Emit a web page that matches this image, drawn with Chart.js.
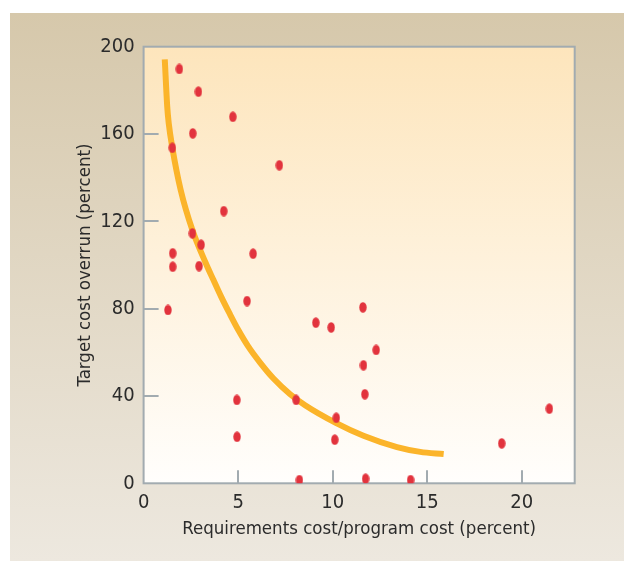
<!DOCTYPE html>
<html>
<head>
<meta charset="utf-8">
<script src="https://cdn.jsdelivr.net/npm/chart.js@4"></script>
<style>
  html, body { margin: 0; padding: 0; background: #fff; }
</style>
</head>
<body>
<canvas id="chart" width="624" height="569"></canvas>
<script>
/* Data */
const reqCost = [1.89, 2.90, 4.72, 2.60, 1.52, 7.18, 4.24, 2.58, 3.04, 1.54, 5.79, 1.54, 2.93, 5.47, 1.29,
  11.60, 9.11, 9.92, 12.30, 11.63, 11.70, 4.93, 8.07, 21.46, 10.19, 4.94, 10.11, 18.94, 8.24, 11.74, 14.12];
const overrun = [189.8, 179.4, 167.9, 160.3, 153.7, 145.7, 124.7, 114.5, 109.3, 105.4, 105.2, 99.2, 99.5, 83.5, 79.4,
  80.6, 73.6, 71.4, 61.1, 54.1, 40.8, 38.2, 38.2, 34.2, 30.0, 21.3, 20.0, 18.3, 1.5, 2.1, 1.5];

const curveX = [1.12, 1.25, 1.33, 1.52, 1.96, 2.58, 3.29, 3.69, 4.10, 4.54, 5.01, 5.54, 6.16, 6.87, 7.75, 8.54,
  10.19, 11.63, 13.40, 14.63, 15.87];
const curveY = [194.2, 172.5, 164.9, 153.7, 134.4, 116.0, 100.8, 93.2, 85.5, 77.9, 70.2, 62.6, 55.3, 48.0, 40.8, 35.8,
  27.6, 21.8, 16.6, 14.4, 13.4];

const xTicks = [0, 5, 10, 15, 20];
const yTicks = [0, 40, 80, 120, 160, 200];

const fontFamily = "'Liberation Sans Narrow', 'DejaVu Sans Condensed', 'Liberation Sans', sans-serif";
const textColor = "#2b2b2b";
const frameColor = "#a2abb0";

/* Oval red dot */
function makeDot(w, h, color) {
  const c = document.createElement("canvas");
  c.width = w;
  c.height = h;
  const g = c.getContext("2d");
  g.fillStyle = color;
  g.beginPath();
  g.ellipse(w / 2, h / 2, w / 2 - 0.3, h / 2 - 0.2, 0, 0, Math.PI * 2);
  g.fill();
  return c;
}
const dot = makeDot(8, 11, "#e2333d");

/* Backgrounds, frame and inner ticks */
const decor = {
  id: "decor",
  beforeDraw(chart) {
    const { ctx, chartArea: a } = chart;
    ctx.save();
    let g = ctx.createLinearGradient(0, 13, 0, 561);
    g.addColorStop(0, "#d6c8ab");
    g.addColorStop(1, "#ede8df");
    ctx.fillStyle = g;
    ctx.fillRect(10, 13, 614, 548);

    g = ctx.createLinearGradient(0, a.top, 0, a.bottom);
    g.addColorStop(0, "#fde5bc");
    g.addColorStop(1, "#fffefc");
    ctx.fillStyle = g;
    ctx.fillRect(a.left, a.top, a.right - a.left, a.bottom - a.top);
    ctx.restore();
  },
  beforeDatasetsDraw(chart) {
    const { ctx, chartArea: a, scales } = chart;
    ctx.save();
    ctx.strokeStyle = frameColor;
    ctx.lineWidth = 2;
    ctx.strokeRect(a.left, a.top, a.right - a.left, a.bottom - a.top);
    ctx.beginPath();
    yTicks.slice(1, -1).forEach(v => {
      const y = Math.round(scales.y.getPixelForValue(v));
      ctx.moveTo(a.left, y);
      ctx.lineTo(a.left + 15, y);
    });
    xTicks.slice(1).forEach(v => {
      const x = Math.round(scales.x.getPixelForValue(v));
      ctx.moveTo(x, a.bottom);
      ctx.lineTo(x, a.bottom - 13);
    });
    ctx.stroke();
    ctx.restore();
  }
};

new Chart(document.getElementById("chart"), {
  type: "scatter",
  data: {
    datasets: [
      {
        data: reqCost.map((x, i) => ({ x, y: overrun[i] })),
        pointStyle: dot,
        pointRadius: 5
      },
      {
        data: curveX.map((x, i) => ({ x, y: curveY[i] })),
        showLine: true,
        pointRadius: 0,
        borderColor: "#fbb42a",
        borderWidth: 6,
        borderCapStyle: "butt",
        cubicInterpolationMode: "monotone"
      }
    ]
  },
  options: {
    responsive: false,
    animation: false,
    devicePixelRatio: 1,
    layout: { padding: { left: 0, top: 46.7, right: 49.3, bottom: 0 } },
    plugins: {
      legend: { display: false },
      tooltip: { enabled: false }
    },
    scales: {
      x: {
        type: "linear",
        min: 0,
        max: 22.8,
        grid: { display: false, drawTicks: false },
        border: { display: false },
        afterBuildTicks: s => { s.ticks = xTicks.map(v => ({ value: v })); },
        afterFit: s => { s.height = 85.7; },
        ticks: {
          color: textColor,
          padding: 7,
          maxRotation: 0,
          font: { family: fontFamily, size: 20 }
        },
        title: {
          display: true,
          text: "Requirements cost/program cost (percent)",
          color: textColor,
          font: { family: fontFamily, size: 18.5 },
          padding: { top: 0, bottom: 28.9 }
        }
      },
      y: {
        type: "linear",
        min: 0,
        max: 200,
        grid: { display: false, drawTicks: false },
        border: { display: false },
        afterBuildTicks: s => { s.ticks = yTicks.map(v => ({ value: v })); },
        afterFit: s => { s.width = 143.6; },
        ticks: {
          color: textColor,
          padding: 9,
          font: { family: fontFamily, size: 20 }
        },
        title: {
          display: true,
          text: "Target cost overrun (percent)",
          color: textColor,
          font: { family: fontFamily, size: 18.5 },
          padding: { top: 73.9, bottom: 0 }
        }
      }
    }
  },
  plugins: [decor]
});
</script>
</body>
</html>
